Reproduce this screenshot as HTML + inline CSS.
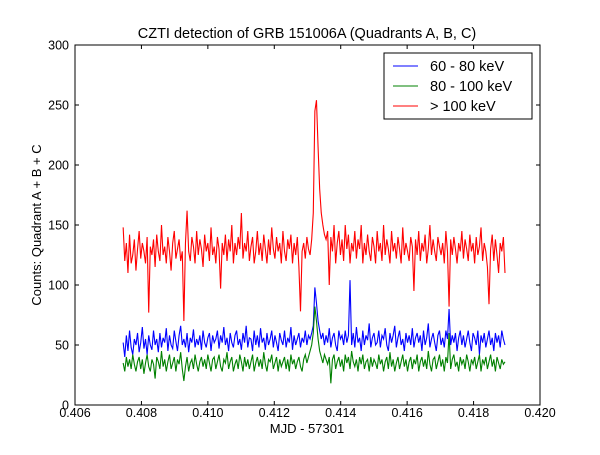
<!DOCTYPE html>
<html><head><meta charset="utf-8"><style>
body{margin:0;background:#fff;}
svg text{font-family:"Liberation Sans","DejaVu Sans",sans-serif;}
</style></head><body>
<svg id="chart" width="600" height="450" xmlns="http://www.w3.org/2000/svg">
<rect width="600" height="450" fill="#fff"/>
<text x="307" y="38" font-size="14.5" text-anchor="middle">CZTI detection of GRB 151006A (Quadrants A, B, C)</text>
<g id="series"></g>
<rect x="75" y="45" width="465" height="360" fill="none" stroke="#000" stroke-width="1"/>
<g id="ticks"></g>
<text x="307" y="433" font-size="13" text-anchor="middle">MJD - 57301</text>
<text transform="translate(41,225) rotate(-90)" font-size="13" text-anchor="middle">Counts: Quadrant A + B + C</text>
<g>
<rect x="384" y="53" width="148" height="66" fill="#fff" stroke="#000" stroke-width="1"/>
<line x1="393" y1="66" x2="418" y2="66" stroke="#0000ff"/>
<text x="430" y="71" font-size="14.5">60 - 80 keV</text>
<line x1="393" y1="86" x2="418" y2="86" stroke="#008000"/>
<text x="430" y="91" font-size="14.5">80 - 100 keV</text>
<line x1="393" y1="106" x2="418" y2="106" stroke="#ff0000"/>
<text x="430" y="111" font-size="14.5">&gt; 100 keV</text>
</g>
</svg>
<script>
const tStart = 0.40745;
const tStep = 0.0000481;
const xTicks = [0.406,0.408,0.410,0.412,0.414,0.416,0.418,0.420];
const xTickLabels = ["0.406","0.408","0.410","0.412","0.414","0.416","0.418","0.420"];
const yTicks = [0,50,100,150,200,250,300];
const yTickLabels = ["0","50","100","150","200","250","300"];
const redValues = [
148,120,135,110,142,118,125,138,112,130,145,122,135,128,118,140,77,132,125,138,
115,142,128,120,150,125,132,118,140,128,112,135,145,122,130,138,120,128,70,135,
162,128,120,140,132,118,145,125,138,130,115,142,128,135,120,148,125,132,118,140,
130,97,135,125,142,120,138,128,150,118,135,125,140,130,160,122,135,128,145,120,
132,140,118,128,145,125,135,120,142,130,118,138,125,148,130,122,140,128,135,118,
145,128,120,138,130,142,118,135,125,140,115,78,128,135,122,140,130,125,138,160,
245,254,215,180,160,150,142,138,145,100,140,128,150,118,135,145,125,138,120,150,
130,142,118,135,128,145,122,138,130,150,118,135,125,142,128,120,140,132,118,145,
128,135,120,150,125,138,130,118,145,128,135,122,140,130,118,148,125,135,128,120,
140,132,95,138,125,145,120,135,128,142,118,130,150,125,138,128,120,140,132,125,
135,118,145,128,82,138,125,140,130,118,135,128,145,122,138,130,120,142,128,135,
118,140,125,132,148,120,135,128,115,84,130,142,120,138,125,110,135,128,140,110];
const blueValues = [
52,40,58,45,62,48,42,55,50,60,44,52,65,47,55,42,58,50,46,62,
50,55,44,60,48,56,52,64,45,58,50,47,62,53,45,58,66,50,55,48,
60,44,56,52,63,48,55,50,58,46,62,52,48,56,60,45,58,52,55,62,
47,58,52,65,50,56,45,60,52,48,58,62,50,55,46,60,52,66,48,56,
55,45,62,50,58,48,64,52,56,46,60,50,55,62,48,58,52,45,60,54,
50,62,48,56,52,65,46,58,50,55,60,48,56,52,62,50,58,55,60,66,
98,85,70,62,55,60,50,58,52,64,48,56,60,50,45,62,55,58,50,62,
52,58,104,50,60,48,65,52,56,45,62,50,58,54,68,48,56,60,50,52,
62,48,58,55,64,50,45,60,52,58,66,48,56,62,50,55,45,60,52,58,
50,64,48,56,60,52,58,45,62,50,56,68,48,55,60,52,45,58,62,50,
56,48,62,55,80,50,58,52,60,45,56,62,50,58,48,55,62,52,45,60,
56,50,62,42,58,52,60,48,55,62,50,56,45,60,52,58,48,62,55,50];
const greenValues = [
35,28,40,32,38,30,42,34,28,36,40,30,38,26,35,42,32,28,38,34,
22,40,36,30,45,32,38,28,36,42,30,35,40,28,38,34,44,30,20,32,
40,28,35,38,30,42,34,28,36,40,32,38,30,42,35,28,38,40,30,36,
42,32,28,38,35,44,30,36,40,28,34,38,30,42,36,28,40,32,38,30,
36,42,28,35,40,32,38,30,44,34,28,38,36,42,30,35,40,28,38,32,
36,40,30,38,28,42,34,38,30,36,40,32,28,38,42,35,40,45,50,60,
82,70,55,45,40,35,42,38,34,40,18,38,42,30,36,40,32,38,28,42,
35,40,30,45,36,32,38,28,40,34,42,30,36,38,28,40,32,38,35,30,
42,34,38,28,36,40,30,44,32,38,28,35,40,30,36,42,32,38,28,36,
40,30,38,34,42,28,36,40,32,38,30,45,34,28,38,40,30,36,42,32,
38,28,40,35,60,30,38,42,32,36,28,40,34,38,30,42,36,28,38,34,
40,30,36,42,28,38,34,40,30,36,42,32,38,28,40,35,30,38,34,36];
const X0=75,X1=540,Y0=405,Y1=45;
function xs(v){return X0+(v-0.406)/(0.420-0.406)*(X1-X0);}
function ys(v){return Y0-(v-0)/(300-0)*(Y0-Y1);}
const NS="http://www.w3.org/2000/svg";
const g=document.getElementById('series');
function drawLine(vals,color,name){
  const p=document.createElementNS(NS,'polyline');
  p.setAttribute('points',vals.map((v,i)=>xs(tStart+i*tStep).toFixed(2)+','+ys(v).toFixed(2)).join(' '));
  p.setAttribute('fill','none');p.setAttribute('stroke',color);p.setAttribute('stroke-width','1.1');
  
  
  g.appendChild(p);
}
drawLine(redValues,'#ff0000','series-gt100-kev');
drawLine(blueValues,'#0000ff','series-60-80-kev');
drawLine(greenValues,'#008000','series-80-100-kev');
const tg=document.getElementById('ticks');
function add(tag,attrs,text){const e=document.createElementNS(NS,tag);for(const k in attrs)e.setAttribute(k,attrs[k]);if(text!==undefined)e.textContent=text;tg.appendChild(e);return e;}
xTicks.forEach((v,i)=>{const x=xs(v);
  add('line',{x1:x,y1:Y0,x2:x,y2:Y0-4,stroke:'#000'});
  add('line',{x1:x,y1:Y1,x2:x,y2:Y1+4,stroke:'#000'});
  const t=add('text',{x:x,y:Y0+12,'font-size':12.5,'text-anchor':'middle'},xTickLabels[i]);
  
  
});
yTicks.forEach((v,i)=>{const y=ys(v);
  add('line',{x1:X0,y1:y,x2:X0+4,y2:y,stroke:'#000'});
  add('line',{x1:X1,y1:y,x2:X1-4,y2:y,stroke:'#000'});
  const t=add('text',{x:X0-6,y:y+4.5,'font-size':12.5,'text-anchor':'end'},yTickLabels[i]);
  
  
});
</script>
</body></html>
